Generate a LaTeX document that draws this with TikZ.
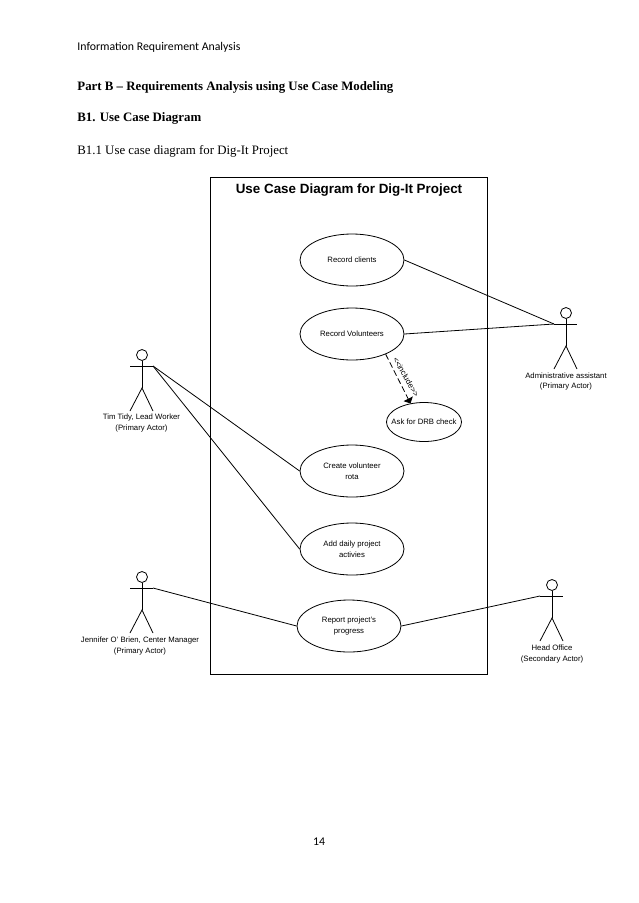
\documentclass[tikz,border=0pt]{standalone}
\usepackage{fontspec}
\setmainfont{Liberation Serif}
\setsansfont{Liberation Sans}
\newfontfamily\hdfont{Carlito}
\usetikzlibrary{arrows,shapes.geometric}
\tikzset{
  usecase/.style={draw,ellipse,inner sep=0pt,minimum width=104pt,minimum height=52pt,
    align=center,font=\sffamily\fontsize{7.75}{10.5}\selectfont},
  actorlabel/.style={align=center,font=\sffamily\fontsize{7.75}{10.5}\selectfont},
  pagetext/.style={anchor=west,inner sep=0pt}
}
\begin{document}
\begin{tikzpicture}[x=1pt,y=-1pt,>=triangle 90,line width=0.8pt]
\useasboundingbox (0,0) rectangle (638,903);
\fill [white] (0,0) rectangle (638,903);

\node [pagetext,font=\hdfont\fontsize{11.8}{13}\selectfont] (header) at (77,47) {Information Requirement Analysis};
\node [pagetext,font=\bfseries\fontsize{12.85}{15}\selectfont] (parttitle) at (77,87) {Part B -- Requirements Analysis using Use Case Modeling};
\node [pagetext,font=\bfseries\fontsize{12.85}{15}\selectfont] (sectitle) at (77,118) {B1. Use Case Diagram};
\node [pagetext,font=\fontsize{12.85}{15}\selectfont] (subtitle) at (77,151) {B1.1 Use case diagram for Dig-It Project};
\node [font=\hdfont\fontsize{11.8}{13}\selectfont] (pagenum) at (319,842) {14};

\draw (210,177) rectangle (487,674);
\node [font=\sffamily\bfseries\fontsize{13.4}{15}\selectfont] (title) at (349,190) {Use Case Diagram for Dig-It Project};

\node [usecase] (clients) at (352,260) {Record clients};
\node [usecase] (volunteers) at (352,334) {Record Volunteers};
\node [draw,ellipse,inner sep=0pt,minimum width=75pt,minimum height=39pt,
  label={[actorlabel]center:Ask for DRB check}] (drb) at (424,422) {};
\node [usecase] (rota) at (352,471) {Create volunteer\\rota};
\node [usecase] (daily) at (352,549) {Add daily project\\activies};
\node [usecase] (progress) at (349,626) {Report project's\\progress};

\foreach \name/\x/\y in {tim/142/355,jen/142/577,admin/566/313,office/552/585}
  { \node [draw,circle,inner sep=0pt,minimum size=11pt] (\name-head) at (\x,\y) {};
    \coordinate (\name-left) at (\x-12,\y+11);
    \coordinate (\name-right) at (\x+11,\y+11);
    \coordinate (\name-hip) at (\x,\y+33);
    \draw (\name-left) -- (\name-right);
    \draw (\name-head) -- (\name-hip);
    \draw (\x-12,\y+56) -- (\name-hip) -- (\x+11,\y+56);
  }

\node [actorlabel] (timlabel) at (141.5,423) {Tim Tidy, Lead Worker\\(Primary Actor)};
\node [actorlabel] (jenlabel) at (140,646) {Jennifer O' Brien, Center Manager\\(Primary Actor)};
\node [actorlabel] (adminlabel) at (566,381.5) {Administrative assistant\\(Primary Actor)};
\node [actorlabel] (officelabel) at (552,654) {Head Office\\(Secondary Actor)};

\draw (clients.east) -- (admin-left);
\draw (volunteers.east) -- (admin-left);
\draw (tim-right) -- (rota.west);
\draw (tim-right) -- (daily.west);
\draw (jen-right) -- (progress.west);
\draw (progress.east) -- (office-left);
\draw [->,dash pattern=on 6pt off 3pt] (volunteers.-31) -- (drb.126);
\node [rotate=-60,inner sep=0pt,font=\sffamily\fontsize{8}{9}\selectfont] (inclabel) at (406,377) {{<}{<}include{>}{>}};
\end{tikzpicture}
\end{document}
